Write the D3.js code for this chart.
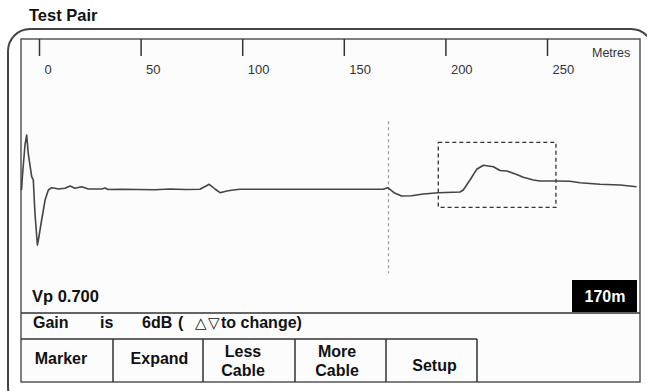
<!DOCTYPE html>
<html><head><meta charset="utf-8">
<script src="https://cdn.jsdelivr.net/npm/d3@7/dist/d3.min.js"></script>
<style>
html,body{margin:0;padding:0;background:#fff;}
svg{display:block;font-family:"Liberation Sans",Arial,sans-serif;}
</style></head>
<body><svg id="chart" width="647" height="391"></svg>
<script>
// ---- data ----
const title = "Test Pair";
const axisUnit = "Metres";
const tickValues = [0, 50, 100, 150, 200, 250];
// trace: distance (m) and reflected amplitude (arbitrary units)
const traceMetres = [-8.6,-8.2,-6.9,-6.05,-5.3,-3.6,-2.8,-2.0,-0.8,-0.3,1.3,3.0,4.6,6.2,7.9,9.5,12.8,15.3,17.7,21.0,24.3,30.9,32.5,34,40.7,57.1,64.5,71.9,79.2,83.8,86.6,89.1,92.5,95.5,98.9,128.4,169.4,171.6,175.2,178.5,183.4,189.1,196.5,207.2,208.8,212.1,215.4,218.7,223.6,226.9,230.2,235.1,238.3,243.3,246.6,254.8,261.3,266.2,276.1,285.9,294.1];
const traceAmp    = [-0.7,12.3,44.3,54.3,36,12.6,9.3,-23.7,-55.7,-50.7,-30.7,-10.7,-0.7,1.6,1,0.3,1,3.3,1,2.6,0.3,0.3,1.3,-0.2,0,-0.5,0.3,-0.2,0,5,0.3,-3.4,-1.7,-0.7,0,0,0,1.6,-4,-6.7,-6.4,-4.7,-3.4,-2.7,-0.7,9.3,20,24,22.6,18.8,18.3,14.8,12,9.3,8.3,8.3,8,6.6,5.1,4.3,2.6];
const cursorMetres = 172;
const cursorLabel = "170m";
const zoomBoxMetres = [196.5, 254.4];
const zoomBoxAmp = [47, -18];
const vpLabel = "Vp 0.700";
const gainWords = ["Gain", "is", "6dB", "(", "\u25B3", "\u25BD", "to change)"];
const buttons = [["Marker"], ["Expand"], ["Less","Cable"], ["More","Cable"], ["Setup"]];

// ---- layout ----
const svg = d3.select("#chart");
const inner = {x0:21, y0:39, x1:640, y1:382};
const x = d3.scaleLinear().domain([0, 250]).range([39, 547]);
const y = d3.scaleLinear().domain([-60, 60]).range([249.3, 129.3]);

// outer rounded frame
svg.append("rect").attr("x",8).attr("y",29).attr("width",645).attr("height",380)
  .attr("rx",22).attr("fill","none").attr("stroke","#444").attr("stroke-width",2);

svg.append("text").attr("x",29).attr("y",21).attr("font-size",16.5).attr("font-weight","bold")
  .attr("fill","#111").text(title);

// inner panel
svg.append("rect").attr("x",inner.x0).attr("y",inner.y0).attr("width",inner.x1-inner.x0)
  .attr("height",inner.y1-inner.y0).attr("fill","#fcfcfc").attr("stroke","#555").attr("stroke-width",1.5);

// axis
const ax = svg.append("g").attr("transform",`translate(0,${inner.y0})`)
  .call(d3.axisBottom(x).tickValues(tickValues).tickSize(17).tickFormat(d3.format("d")));
ax.select(".domain").remove();
ax.selectAll(".tick line").attr("stroke","#333").attr("stroke-width",1.5);
ax.selectAll(".tick text").attr("x",5).attr("y",35).attr("dy",0).attr("text-anchor","start")
  .attr("font-size",13).attr("fill","#333").attr("font-family","Liberation Sans, Arial, sans-serif");
svg.append("text").attr("x",592).attr("y",57).attr("font-size",12.5).attr("fill","#333").text(axisUnit);

// cursor line
svg.append("line").attr("x1",x(cursorMetres)).attr("x2",x(cursorMetres))
  .attr("y1",y(68)).attr("y2",y(-84)).attr("stroke","#999").attr("stroke-width",1.2)
  .attr("stroke-dasharray","3,3");

// zoom box
svg.append("rect").attr("x",x(zoomBoxMetres[0])).attr("y",y(zoomBoxAmp[0]))
  .attr("width",x(zoomBoxMetres[1])-x(zoomBoxMetres[0])).attr("height",y(zoomBoxAmp[1])-y(zoomBoxAmp[0]))
  .attr("fill","none").attr("stroke","#333").attr("stroke-width",1.3).attr("stroke-dasharray","4,3");

// trace
const pts = traceMetres.map((m,i)=>[m, traceAmp[i]]);
svg.append("path").datum(pts)
  .attr("d", d3.line().x(d=>x(d[0])).y(d=>y(d[1])))
  .attr("fill","none").attr("stroke","#444").attr("stroke-width",1.6).attr("stroke-linejoin","round");

// Vp and cursor label
svg.append("text").attr("x",32).attr("y",302).attr("font-size",16.5).attr("font-weight","bold")
  .attr("fill","#111").text(vpLabel);
svg.append("rect").attr("x",572).attr("y",280).attr("width",65).attr("height",32).attr("fill","#000");
svg.append("text").attr("x",605).attr("y",302).attr("text-anchor","middle").attr("font-size",16)
  .attr("font-weight","bold").attr("fill","#fff").text(cursorLabel);

// separators
svg.append("line").attr("x1",inner.x0).attr("x2",inner.x1).attr("y1",313).attr("y2",313)
  .attr("stroke","#333").attr("stroke-width",1.5);
const btnEdges = [21,113,203,295,386,477];
svg.append("line").attr("x1",inner.x0).attr("x2",btnEdges[5]).attr("y1",339).attr("y2",339)
  .attr("stroke","#333").attr("stroke-width",1.5);
btnEdges.slice(1).forEach(e=>{
  svg.append("line").attr("x1",e).attr("x2",e).attr("y1",339).attr("y2",inner.y1)
    .attr("stroke","#333").attr("stroke-width",1.5);
});

// gain row
const gainX = [33, 100, 142, 178, 195, 208, 221];
gainWords.forEach((w,i)=>{
  const tri = (i===4||i===5);
  svg.append("text").attr("x",gainX[i]).attr("y",328)
    .attr("font-size", tri?15:16).attr("font-weight", tri?"normal":"bold")
    .attr("font-family", tri?"DejaVu Sans, sans-serif":null)
    .attr("fill","#111").text(w);
});

// buttons
const btnCx = [61, 159.5, 243, 337, 434.5];
const btnY = [[364],[364],[356.5,376],[356.5,376],[371]];
buttons.forEach((lines,i)=>{
  lines.forEach((t,j)=>{
    svg.append("text").attr("x",btnCx[i]).attr("y",btnY[i][j]).attr("text-anchor","middle")
      .attr("font-size",16).attr("font-weight","bold").attr("fill","#111").text(t);
  });
});
</script></body></html>
